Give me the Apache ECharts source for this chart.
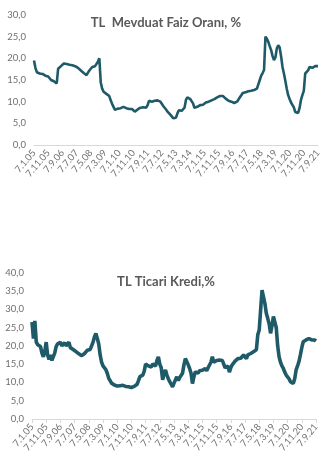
<!DOCTYPE html>
<html>
<head>
<meta charset="utf-8">
<script src="https://cdn.jsdelivr.net/npm/echarts@6/dist/echarts.min.js"></script>
<style>
  html, body { margin: 0; padding: 0; background: #ffffff; }
  #chart { width: 332px; height: 466px; }
</style>
</head>
<body>
<div id="chart"></div>
<script>
// Monthly observations, January 2005 through September 2021 (day 7 of each month)
const startYear = 2005;
const monthCount = 201;

// TL deposit rate, %
const depositRate = [
  19.5, 17.8, 16.8, 16.5, 16.5, 16.5, 16.4, 16.3, 16.0, 15.9,
  15.8, 15.4, 15.0, 14.8, 14.7, 14.4, 14.2, 17.6, 18.0, 18.2,
  18.5, 18.8, 19.2, 18.7, 18.5, 18.5, 18.4, 18.4, 18.4, 18.2,
  18.0, 17.8, 17.5, 17.2, 16.9, 16.6, 16.3, 16.1, 16.7, 17.2,
  17.3, 18.0, 18.3, 18.2, 18.6, 19.2, 20.0, 14.5, 13.0, 12.3,
  12.0, 11.8, 11.6, 11.3, 10.3, 9.5, 8.8, 8.1, 8.2, 8.4,
  8.2, 8.5, 8.4, 8.8, 8.6, 8.5, 8.4, 8.3, 8.5, 8.3,
  8.0, 7.7, 7.9, 8.2, 8.4, 8.6, 8.9, 8.7, 8.3, 8.6,
  9.2, 10.2, 10.4, 10.0, 10.0, 10.2, 10.0, 10.3, 10.5, 10.0,
  9.5, 9.0, 8.6, 8.2, 7.7, 7.4, 7.0, 6.6, 6.2, 5.8,
  6.3, 7.3, 8.0, 8.2, 7.9, 8.1, 8.6, 10.4, 11.0, 11.1,
  10.6, 10.2, 9.6, 8.6, 8.5, 8.8, 9.0, 9.2, 9.5, 9.3,
  9.6, 9.8, 9.9, 10.0, 10.2, 10.3, 10.5, 10.6, 10.8, 11.0,
  11.1, 11.3, 11.2, 11.3, 11.0, 10.7, 10.5, 10.2, 10.0, 10.0,
  9.8, 9.7, 9.8, 10.0, 10.4, 11.0, 11.5, 12.0, 12.3, 12.2,
  12.3, 12.4, 12.4, 12.5, 12.5, 12.7, 12.8, 13.0, 13.2, 15.0,
  16.0, 16.6, 17.3, 25.0, 24.5, 23.8, 22.8, 21.9, 20.5, 19.6,
  20.2, 22.3, 23.0, 22.5, 20.5, 18.0, 16.5, 14.8, 13.0, 11.5,
  10.6, 9.8, 9.4, 8.7, 7.6, 7.3, 7.4, 8.5, 10.4, 11.5,
  12.5, 16.5, 16.9, 17.2, 18.0, 18.0, 17.8, 18.0, 18.2, 18.1,
  18.2
];

// TL commercial loan rate, %
const commercialLoanRate = [
  26.5, 22.0, 26.8, 21.0, 20.3, 20.0, 19.8, 18.0, 17.0, 18.5,
  21.0, 17.5, 16.3, 17.5, 16.0, 15.8, 18.0, 19.8, 20.5, 20.2,
  21.0, 20.0, 20.3, 20.8, 20.0, 19.8, 21.0, 19.5, 19.2, 19.0,
  18.6, 18.4, 18.2, 17.8, 17.4, 17.3, 17.6, 17.9, 18.3, 18.8,
  18.9, 19.0, 19.4, 21.0, 22.5, 23.4, 22.0, 20.5, 17.5, 15.5,
  14.5, 14.0, 13.5, 12.5, 11.2, 10.5, 9.8, 9.5, 9.3, 9.2,
  9.0, 9.2, 9.1, 9.0, 9.2, 9.0, 8.9, 8.9, 8.8, 8.7,
  8.6, 8.7, 8.9, 9.2, 9.5, 10.5, 11.6, 11.5, 12.0, 13.0,
  15.0, 15.2, 14.5, 14.8, 14.2, 15.0, 15.2, 14.5, 16.0, 17.0,
  15.0, 14.0, 10.7, 12.5, 13.4, 12.0, 11.0, 10.2, 9.5, 8.8,
  9.8, 10.7, 11.5, 10.5, 11.3, 11.1, 12.5, 14.8, 16.5, 16.0,
  14.8, 13.8, 12.5, 9.7, 11.5, 12.9, 13.0, 12.5, 13.2, 12.8,
  13.3, 13.5, 13.8, 13.2, 14.0, 13.7, 15.5, 17.0, 15.5, 15.2,
  16.0, 15.5, 16.1, 15.8, 16.0, 15.5, 14.0, 13.8, 14.5, 12.8,
  14.0, 14.8, 15.2, 15.8, 16.1, 16.5, 16.6, 16.6, 16.4, 17.5,
  17.0, 16.5, 17.5, 17.4, 17.9, 17.5, 18.4, 18.0, 18.9, 23.0,
  24.3, 29.8, 35.2, 35.7, 31.6, 28.9, 27.5, 26.0, 23.4, 25.5,
  28.0, 27.8, 25.0, 20.0, 17.0, 15.5, 14.5, 13.8, 12.8, 12.0,
  11.6, 11.0, 10.2, 9.9, 9.7, 11.0, 13.4, 14.5, 15.7, 17.5,
  19.5, 21.1, 21.3, 21.6, 21.8, 22.0, 21.5, 21.6, 21.2, 21.6,
  21.3
];

// Category labels in d.m.yy form
const dates = [];
for (let i = 0; i < monthCount; i++) {
  const y = startYear + Math.floor(i / 12);
  const m = (i % 12) + 1;
  dates.push('7.' + m + '.' + String(y).slice(2));
}

const titles = ['TL  Mevduat Faiz Oranı, %', 'TL Ticari Kredi,%'];

const lineColor = '#1f5a68';
const titleColor = '#595959';
const labelColor = '#6f6f6f';
const fontFamily = 'Lato, "Liberation Sans", sans-serif';

function fmt(v) { return v.toFixed(1).replace('.', ','); }

function xAxisFor(gridIndex, showTicks) {
  return {
    type: 'category',
    gridIndex: gridIndex,
    data: dates,
    boundaryGap: false,
    axisLine: { show: true, lineStyle: { color: '#d9d9d9', width: 1 } },
    axisTick: { show: showTicks, interval: 9, length: 4, lineStyle: { color: '#d9d9d9' } },
    axisLabel: {
      interval: 9,
      rotate: 50,
      margin: 6,
      color: labelColor,
      fontFamily: fontFamily,
      fontSize: 9.5
    },
    splitLine: { show: false }
  };
}

function yAxisFor(gridIndex, max) {
  return {
    type: 'value',
    gridIndex: gridIndex,
    min: 0,
    max: max,
    interval: 5,
    axisLine: { show: false },
    axisTick: { show: false },
    splitLine: { show: false },
    axisLabel: {
      color: labelColor,
      fontFamily: fontFamily,
      fontSize: 9.5,
      margin: 8,
      formatter: fmt
    }
  };
}

const chart = echarts.init(document.getElementById('chart'), null, { renderer: 'canvas' });

chart.setOption({
  animation: false,
  backgroundColor: '#ffffff',
  title: [
    {
      text: titles[0], left: 'center', top: 11,
      textStyle: { color: titleColor, fontFamily: fontFamily, fontWeight: 'bold', fontSize: 13 }
    },
    {
      text: titles[1], left: 'center', top: 270,
      textStyle: { color: titleColor, fontFamily: fontFamily, fontWeight: 'bold', fontSize: 13 }
    }
  ],
  grid: [
    { left: 34, right: 14, top: 15, bottom: 321 },
    { left: 32, right: 16, top: 272.6, bottom: 47 }
  ],
  xAxis: [xAxisFor(0, false), xAxisFor(1, true)],
  yAxis: [yAxisFor(0, 30), yAxisFor(1, 40)],
  series: [
    {
      type: 'line', xAxisIndex: 0, yAxisIndex: 0,
      data: depositRate, showSymbol: false, symbol: 'none',
      lineStyle: { color: lineColor, width: 2.6 }
    },
    {
      type: 'line', xAxisIndex: 1, yAxisIndex: 1,
      data: commercialLoanRate, showSymbol: false, symbol: 'none',
      lineStyle: { color: lineColor, width: 3.6 }
    }
  ]
});
</script>
</body>
</html>
